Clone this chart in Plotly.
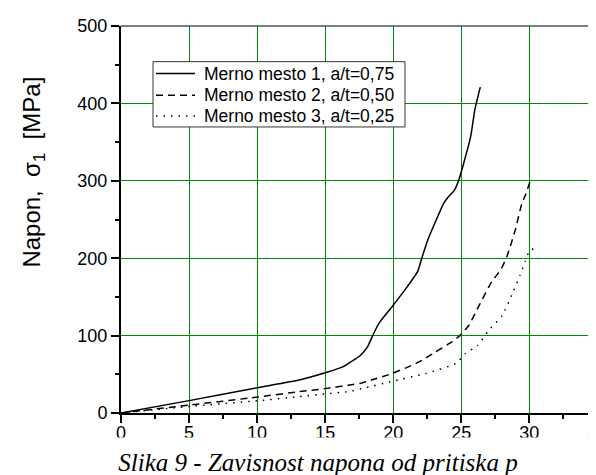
import plotly.graph_objects as go

# Series 1: Merno mesto 1, a/t=0,75
p1 = [0, 5, 10, 13.1, 15, 16.3, 17.6, 18.1, 18.6, 19.0, 19.9, 20.9, 21.8, 22.1, 22.5, 23.1, 23.7, 24.0, 24.5, 24.8, 25.2, 25.7, 26.0, 26.4]
s1 = [0, 16, 32.7, 42.6, 52, 59.6, 74.6, 85, 104, 117, 137, 160, 183, 200, 221.6, 247, 270.6, 278, 288, 300, 324, 358, 392, 421]
# Series 2: Merno mesto 2, a/t=0,50
p2 = [0, 5, 10, 13.1, 15, 16.7, 17.6, 18.4, 19.8, 21.4, 22.1, 23.1, 24.1, 24.9, 25.55, 26.3, 27.25, 27.9, 28.35, 28.97, 29.45, 29.7, 30.15]
s2 = [0, 10.2, 20.5, 27.6, 31.5, 36, 38.3, 42.6, 50.3, 61.8, 68, 78.8, 89.5, 100, 113, 138.5, 170, 185, 202, 236.6, 270.6, 281, 304]
# Series 3: Merno mesto 3, a/t=0,25
p3 = [0, 5, 10, 13.1, 15, 16.7, 18, 19.8, 22.4, 24.6, 25.3, 26.2, 27.0, 28.0, 28.84, 29.3, 29.7, 29.94, 30.4]
s3 = [0, 8.5, 15.7, 21.3, 24.7, 27.6, 32.8, 40.4, 51, 64, 76.7, 87.3, 106.5, 125.7, 157.7, 177, 196, 206.7, 214]

names = ["Merno mesto 1, a/t=0,75", "Merno mesto 2, a/t=0,50", "Merno mesto 3, a/t=0,25"]
dashes = ["solid", "7px,5px", "1.5px,6px"]
x_ticks = [0, 5, 10, 15, 20, 25, 30]
y_ticks = [0, 100, 200, 300, 400, 500]

fig = go.Figure()
for px_, sy_, nm, ds in zip([p1, p2, p3], [s1, s2, s3], names, dashes):
    fig.add_trace(go.Scatter(x=px_, y=sy_, mode="lines", name=nm, showlegend=False,
                             line=dict(color="black", width=1.5, dash=ds, shape="spline", smoothing=0.5)))

fig.update_layout(
    width=596, height=475,
    margin=dict(l=113, r=8, t=14, b=70),
    paper_bgcolor="white", plot_bgcolor="white",
    font=dict(family="Liberation Sans, Arial, sans-serif", color="black", size=18),
    showlegend=False,
    xaxis=dict(range=[0, 34.9], tickvals=x_ticks, showgrid=True, gridcolor="#008a00", gridwidth=1.3,
               zeroline=False, showline=True, linecolor="black", linewidth=2,
               mirror=False, ticks="outside", ticklen=8, tickwidth=1.5, tickcolor="black",
               ticklabelstandoff=-6,
               minor=dict(dtick=2.5, ticks="outside", ticklen=4, tickcolor="black", showgrid=False)),
    yaxis=dict(range=[0, 500], tickvals=y_ticks, showgrid=True, gridcolor="#008a00", gridwidth=1.3,
               zeroline=False, showline=True, linecolor="black", linewidth=2,
               ticks="outside", ticklen=8, tickwidth=1.5, tickcolor="black",
               minor=dict(dtick=50, ticks="outside", ticklen=4, tickcolor="black", showgrid=False)),
)

# top frame line
fig.add_shape(type="line", xref="paper", yref="paper", x0=0, x1=1.02, y0=1, y1=1,
              line=dict(color="#555555", width=1.5), layer="above")

# legend box drawn manually
fig.add_shape(type="rect", xref="paper", yref="paper", x0=0.0674, x1=0.5979, y0=0.7391, y1=0.9079,
              line=dict(color="#333333", width=1), fillcolor="white", layer="above")
row_y = [0.8772, 0.8210, 0.7673]
for nm, ds, ry in zip(names, dashes, row_y):
    fig.add_shape(type="line", xref="paper", yref="paper", x0=0.0737, x1=0.1558, y0=ry, y1=ry,
                  line=dict(color="black", width=1.5, dash=ds), layer="above")
    fig.add_annotation(text=nm, xref="paper", yref="paper", x=0.1705, y=ry,
                       xanchor="left", yanchor="middle", showarrow=False,
                       font=dict(size=17.5, family="Liberation Sans, Arial, sans-serif"))

# y-axis title as annotation
fig.add_annotation(text="Napon,  σ<sub>1</sub>  [MPa]", xref="paper", yref="paper",
                   x=-0.185, y=0.6215, xanchor="center", yanchor="middle", textangle=-90,
                   showarrow=False, font=dict(size=24, family="Liberation Sans, Arial, sans-serif"))

# partially visible "35" tick label at the cut right edge
fig.add_annotation(text="35", xref="paper", yref="paper", x=1.003, y=-0.023,
                   xanchor="center", yanchor="top", showarrow=False, font=dict(size=18))

# caption (white background hides lower part of tick labels)
fig.add_annotation(text="<i>Slika 9 - Zavisnost napona od pritiska p</i>", xref="paper", yref="paper",
                   x=0.4137, y=-0.0614, xanchor="center", yanchor="top", showarrow=False,
                   width=700, height=46, bgcolor="white", valign="middle",
                   font=dict(size=25, family="Liberation Serif, Times New Roman, serif"))

fig.write_html("out.html")
